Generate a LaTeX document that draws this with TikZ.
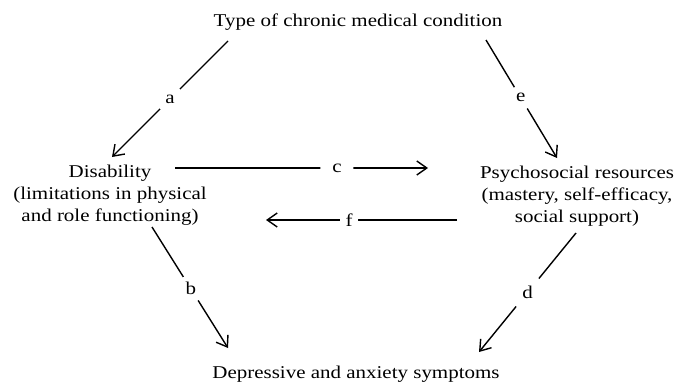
\documentclass[tikz,border=0pt]{standalone}
\usepackage{fontspec}
\setmainfont{Liberation Serif}[FakeStretch=1.165]
\usetikzlibrary{arrows.meta}

\begin{document}
\begin{tikzpicture}[x=1pt,y=-1pt]
        \tikzstyle{every node}+=[inner sep=0pt, font=\fontsize{18}{22}\selectfont]
        \tikzstyle{box}=[anchor=base, align=center]
        \tikzstyle{lbl}=[circle, fill=white, minimum size=26pt]
        \tikzstyle{link}=[line width=1.4pt, -{Straight Barb[length=10pt,width=14pt]}]
        \useasboundingbox (0,0) rectangle (677,385);
        % the four boxes (base = last line)
        \node [box] (cond) at (358,27) {Type of chronic medical condition};
        \node [box] (dis) at (110,221) {Disability\\(limitations in physical\\and role functioning)};
        \node [box] (psy) at (577,222) {Psychosocial resources\\(mastery, self-efficacy,\\social support)};
        \node [box] (dep) at (356,378) {Depressive and anxiety symptoms};
        % paths a to f
        \draw [link] ([shift={(-130,14)}]cond.base) -- node [lbl, minimum size=28pt] {a} ([shift={(2,-64)}]dis.base);
        \draw [link] ([shift={(128,13)}]cond.base) -- node [lbl, pos=0.49, minimum size=25pt] {e} ([shift={(-20,-64)}]psy.base);
        \draw [link] ([shift={(65,-53)}]dis.base) -- node [lbl, pos=0.64, minimum size=33pt] {c} ([shift={(-149,-54)}]psy.base);
        \draw [link] ([shift={(-120,-2)}]psy.base) -- node [lbl, pos=0.565, minimum size=18pt] {f} ([shift={(156,-1)}]dis.base);
        \draw [link] ([shift={(42,6)}]dis.base) -- node [lbl, pos=0.51, minimum size=28pt] {b} ([shift={(-128,-30)}]dep.base);
        \draw [link] ([shift={(-1,11)}]psy.base) -- node [lbl, minimum size=36pt] {d} ([shift={(123,-26)}]dep.base);
\end{tikzpicture}
\end{document}
